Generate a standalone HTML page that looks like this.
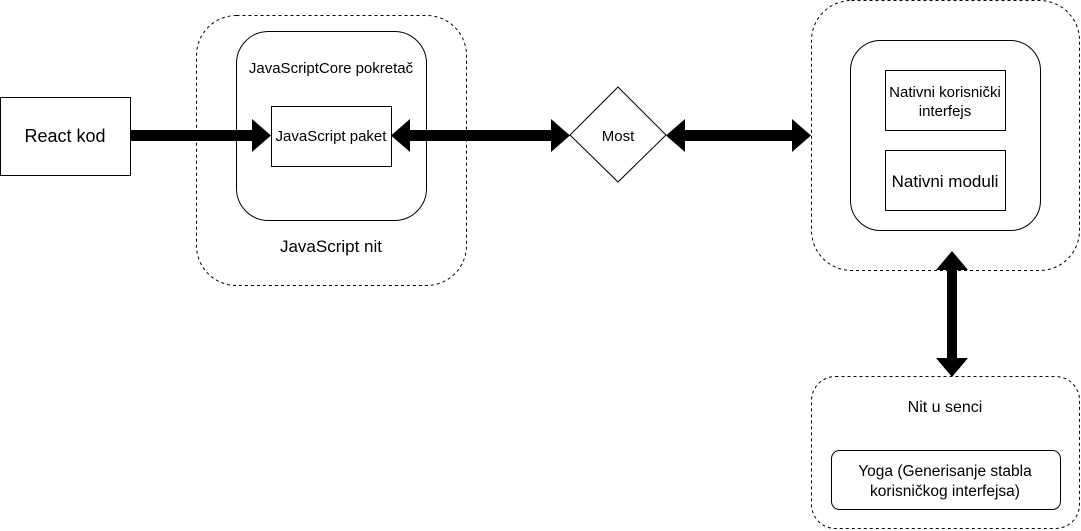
<!DOCTYPE html>
<html><head><meta charset="utf-8"><style>
html,body{margin:0;padding:0;background:#fff;}
svg{display:block;font-family:"Liberation Sans",Helvetica,Arial,sans-serif;}
</style></head><body>
<svg width="1081" height="531" viewBox="0 0 1081 531" xmlns="http://www.w3.org/2000/svg">
<g fill="none" stroke="#000" stroke-width="1">
<rect x="196.5" y="15.5" width="270" height="270" rx="40" stroke-dasharray="3,3"/>
<rect x="236.5" y="31.5" width="190" height="189" rx="32"/>
<rect x="811.5" y="0.5" width="268" height="270" rx="40" stroke-dasharray="3,3"/>
<rect x="850.5" y="40.5" width="190" height="190" rx="30"/>
<rect x="811.5" y="376.5" width="268" height="152" rx="24" stroke-dasharray="3,3"/>
</g>
<g fill="#fff" stroke="#000" stroke-width="1">
<rect x="0.5" y="97.5" width="130" height="78"/>
<rect x="271.5" y="106.5" width="120" height="60"/>
<polygon points="618,87 666,135 618,182 570,135"/>
<rect x="885.5" y="70.5" width="120" height="60"/>
<rect x="885.5" y="150.5" width="120" height="60"/>
<rect x="831.5" y="450.5" width="229" height="59" rx="8"/>
</g>
<g fill="#000">
<rect x="130" y="130" width="125" height="11"/>
<polygon points="252,119 271,135.5 252,152"/>
<rect x="408" y="130" width="145" height="11"/>
<polygon points="410,119 391,135.5 410,152"/>
<polygon points="551,119 570,135.5 551,152"/>
<rect x="682" y="130" width="112" height="11"/>
<polygon points="685,119 666,135.5 685,152"/>
<polygon points="792,119 811,135.5 792,152"/>
<rect x="947" y="268" width="10" height="92"/>
<polygon points="936,270 952,251 968,270"/>
<polygon points="936,358 952,377 968,358"/>
</g>
<g font-size="15" text-anchor="middle" fill="#000">
<text x="65" y="142" font-size="18">React kod</text>
<text x="331" y="73">JavaScriptCore pokretač</text>
<text x="331" y="141">JavaScript paket</text>
<text x="331" y="252" font-size="17">JavaScript nit</text>
<text x="618" y="141">Most</text>
<text x="945" y="97">Nativni korisnički</text>
<text x="945" y="116">interfejs</text>
<text x="945" y="187" font-size="17">Nativni moduli</text>
<text x="945" y="412" font-size="16">Nit u senci</text>
<text x="945" y="476" font-size="15.5">Yoga (Generisanje stabla</text>
<text x="945" y="496" font-size="15.5">korisničkog interfejsa)</text>
</g>
</svg>
</body></html>
